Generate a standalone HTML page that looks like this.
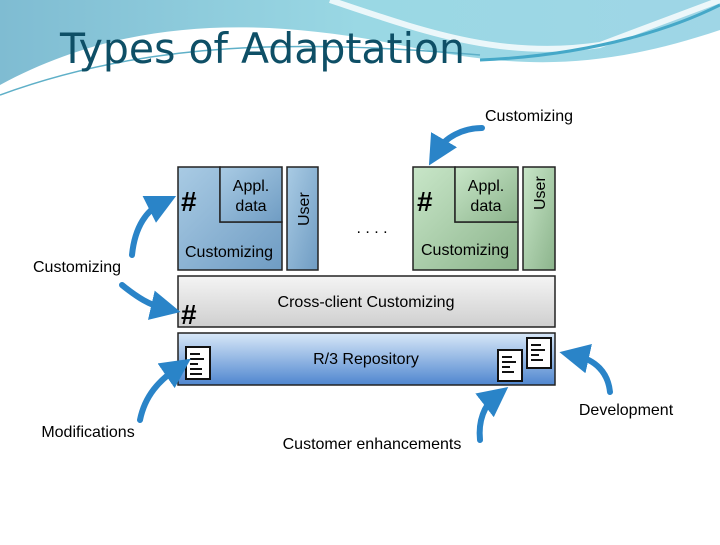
<!DOCTYPE html><html><head><style>body{margin:0;width:720px;height:540px;overflow:hidden;background:#fff;font-family:"Liberation Sans",sans-serif}</style></head><body>
<svg width="720" height="540" viewBox="0 0 720 540" xmlns="http://www.w3.org/2000/svg">
<defs>
<linearGradient id="hd" x1="0" y1="0" x2="1" y2="0"><stop offset="0" stop-color="#7fbcd2"/><stop offset="0.5" stop-color="#9ad8e4"/><stop offset="1" stop-color="#9fd6e6"/></linearGradient>
<linearGradient id="bl" x1="0" y1="0" x2="1" y2="1"><stop offset="0" stop-color="#a9cbe4"/><stop offset="1" stop-color="#6f9cc3"/></linearGradient>
<linearGradient id="gr" x1="0" y1="0" x2="1" y2="1"><stop offset="0" stop-color="#c8e6c8"/><stop offset="1" stop-color="#8cb48c"/></linearGradient>
<linearGradient id="cc" x1="0" y1="0" x2="0" y2="1"><stop offset="0" stop-color="#f4f4f4"/><stop offset="1" stop-color="#cfcfcf"/></linearGradient>
<linearGradient id="r3" x1="0" y1="0" x2="0" y2="1"><stop offset="0" stop-color="#d8e8f8"/><stop offset="1" stop-color="#4f86cf"/></linearGradient>
<marker id="ah" markerWidth="5" markerHeight="5" refX="2" refY="2.5" orient="auto"><path d="M0,0 L5,2.5 L0,5 z" fill="#2a84c8"/></marker>
</defs>
<path d="M0,0 H720 V30 C600,70 520,70 400,45 C250,15 120,20 0,85 Z" fill="url(#hd)"/>
<path d="M330,0 C420,30 500,60 600,45 L720,0" fill="none" stroke="#fff" stroke-width="6" opacity=".8"/>
<path d="M0,95 C150,40 300,40 480,55" fill="none" stroke="#5fb0c8" stroke-width="1.5"/>
<path d="M480,60 C600,55 680,25 720,5" fill="none" stroke="#45a8c8" stroke-width="3"/>
<text x="60" y="63" font-family="'DejaVu Sans',sans-serif" font-size="42" fill="#0e4f66" textLength="405" lengthAdjust="spacingAndGlyphs">Types of Adaptation</text>
<g stroke="#222" stroke-width="1.5">
<path d="M178,167 H220 V222 H282 V270 H178 Z" fill="url(#bl)"/>
<rect x="220" y="167" width="62" height="55" fill="url(#bl)"/>
<rect x="287" y="167" width="31" height="103" fill="url(#bl)"/>
<path d="M413,167 H455 V222 H518 V270 H413 Z" fill="url(#gr)"/>
<rect x="455" y="167" width="63" height="55" fill="url(#gr)"/>
<rect x="523" y="167" width="32" height="103" fill="url(#gr)"/>
<rect x="178" y="276" width="377" height="51" fill="url(#cc)"/>
<rect x="178" y="333" width="377" height="52" fill="url(#r3)"/>
</g>
<g font-size="16" fill="#000" text-anchor="middle">
<text x="251" y="191">Appl.</text><text x="251" y="211">data</text>
<text x="486" y="191">Appl.</text><text x="486" y="211">data</text>
<text x="229" y="257">Customizing</text><text x="465" y="255">Customizing</text>
<text x="366" y="307">Cross-client Customizing</text>
<text x="366" y="364">R/3 Repository</text>
<text x="372" y="233">. . . .</text>
<text transform="translate(309,226) rotate(-90)" x="0" y="0" text-anchor="start">User</text>
<text transform="translate(545,210) rotate(-90)" x="0" y="0" text-anchor="start">User</text>
<text x="529" y="121">Customizing</text>
<text x="77" y="272">Customizing</text>
<text x="88" y="437">Modifications</text>
<text x="372" y="449">Customer enhancements</text>
<text x="626" y="415">Development</text>
</g>
<g font-size="28" font-weight="bold" fill="#000">
<text x="181" y="211">#</text><text x="417" y="211">#</text><text x="181" y="324">#</text>
</g>
<g fill="#fff" stroke="#111" stroke-width="2">
<rect x="186" y="347" width="24" height="32"/><rect x="498" y="350" width="24" height="31"/><rect x="527" y="338" width="24" height="30"/>
</g>
<g stroke="#111" stroke-width="2">
<path d="M190,354h10M190,359h14M190,364h8M190,369h12M190,374h12M502,357h10M502,362h14M502,367h8M502,372h12M531,345h10M531,350h14M531,355h8M531,360h12"/>
</g>
<g fill="none" stroke="#2a84c8" stroke-width="6" stroke-linecap="round" marker-end="url(#ah)">
<path d="M132,255 C135,225 148,210 160,204"/>
<path d="M122,285 C138,298 150,305 163,308"/>
<path d="M140,420 C145,395 160,380 176,369"/>
<path d="M482,128 C462,128 445,138 438,150"/>
<path d="M480,440 C478,420 485,405 494,398"/>
<path d="M610,392 C608,372 595,360 577,356"/>
</g>
</svg></body></html>
